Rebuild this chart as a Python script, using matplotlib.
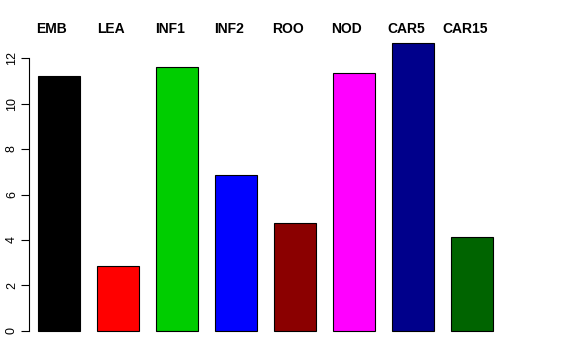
import numpy as np
import matplotlib.pyplot as plt

plt.rcParams['font.family'] = ['Liberation Sans', 'DejaVu Sans']

# data
labels = ['EMB', 'LEA', 'INF1', 'INF2', 'ROO', 'NOD', 'CAR5', 'CAR15']
values = [11.2, 2.86, 11.6, 6.86, 4.75, 11.34, 12.66, 4.13]
colors = ['black', 'red', '#00CD00', 'blue', '#8B0000', 'magenta', '#00008B', '#006400']
yticks = [0, 2, 4, 6, 8, 10, 12]

# R style barplot positions: width 1, space 0.4
pos = 0.9 + 1.4 * np.arange(len(values))

fig = plt.figure(figsize=(5.76, 3.6), dpi=100)
ax = fig.add_axes([29/576, 17.5/360, 482/576, 311.1/360])

ax.bar(pos, values, width=1.0, color=colors, edgecolor='black', linewidth=0.8)

ax.set_xlim(0.186, 11.627)
ax.set_ylim(-0.506, 13.17)

for sp in ['top', 'right', 'bottom']:
    ax.spines[sp].set_visible(False)
ax.spines['left'].set_bounds(0, 12)
ax.spines['left'].set_linewidth(0.8)
ax.set_xticks([])
ax.set_yticks(yticks)
ax.set_yticklabels([str(t) for t in yticks], rotation=90, va='center', fontsize=9)
ax.tick_params(axis='y', length=6, width=0.8, pad=2)

for x, lab in zip(pos, labels):
    ax.text(x - 0.17, 13.28, lab, ha='center', va='center', fontsize=10,
            fontweight='bold', clip_on=False)

fig.savefig('out.png', dpi=100)
